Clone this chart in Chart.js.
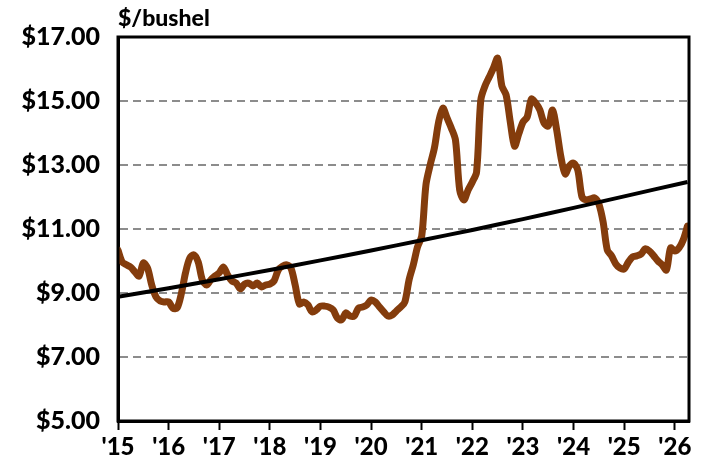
<!DOCTYPE html>
<html>
<head>
<meta charset="utf-8">
<script src="https://cdn.jsdelivr.net/npm/chart.js@4"></script>
<style>
html,body{margin:0;padding:0;background:#fff;}
#wrap{width:716px;height:472px;position:relative;}
</style>
</head>
<body>
<div id="wrap"><canvas id="c" width="716" height="472"></canvas></div>
<script>
// Monthly price series, Jan 2015 .. Apr 2026 ($/bushel)
const startYear = 2015;
const prices = [
  10.34, 9.97, 9.88, 9.81, 9.66, 9.53, 9.94, 9.78, 9.25, 8.88, 8.75, 8.72,
  8.72, 8.53, 8.53, 8.97, 9.63, 10.09, 10.19, 9.97, 9.41, 9.25, 9.41, 9.53,
  9.63, 9.81, 9.56, 9.38, 9.31, 9.13, 9.28, 9.31, 9.22, 9.31, 9.19, 9.25,
  9.28, 9.38, 9.72, 9.84, 9.88, 9.78, 9.25, 8.66, 8.72, 8.63, 8.41, 8.47,
  8.59, 8.59, 8.56, 8.47, 8.22, 8.16, 8.38, 8.28, 8.28, 8.53, 8.56, 8.63,
  8.78, 8.72, 8.56, 8.41, 8.28, 8.31, 8.44, 8.56, 8.72, 9.41, 9.88, 10.44,
  10.78, 12.38, 13.00, 13.53, 14.34, 14.78, 14.47, 14.16, 13.78, 12.22, 11.91, 12.22,
  12.47, 12.78, 15.03, 15.47, 15.75, 16.03, 16.34, 15.47, 15.19, 14.34, 13.59, 13.97,
  14.34, 14.50, 15.06, 14.94, 14.72, 14.31, 14.22, 14.72, 14.09, 13.25, 12.72, 12.97,
  13.06, 12.84, 12.00, 11.91, 11.94, 11.97, 11.78, 11.22, 10.34, 10.16, 9.91, 9.78,
  9.75, 9.97, 10.13, 10.16, 10.22, 10.38, 10.31, 10.16, 10.00, 9.88, 9.72, 10.41,
  10.31, 10.41, 10.66, 11.09
];
// Trend line read at year marks
const trendYears  = [2015, 2016, 2017, 2018, 2019, 2020, 2021, 2022, 2023, 2024, 2025, 2026.25];
const trendValues = [8.88, 9.15, 9.43, 9.72, 10.02, 10.33, 10.65, 10.97, 11.31, 11.66, 12.02, 12.47];
// Axis ticks
const yearTicks = [2015, 2016, 2017, 2018, 2019, 2020, 2021, 2022, 2023, 2024, 2025, 2026];
const yearLabels = ["'15", "'16", "'17", "'18", "'19", "'20", "'21", "'22", "'23", "'24", "'25", "'26"];
const priceTicks = [5, 7, 9, 11, 13, 15, 17];
const yUnit = "$/bushel";

const priceData = prices.map((v, i) => ({x: startYear + i / 12, y: v}));
const trendData = trendYears.map((x, i) => ({x: x, y: trendValues[i]}));

const FONT = "Lato, 'Liberation Sans', sans-serif";

const framePlugin = {
  id: 'frame',
  afterDatasetsDraw(chart) {
    const a = chart.chartArea, ctx = chart.ctx;
    ctx.save();
    ctx.strokeStyle = '#000';
    ctx.lineWidth = 3;
    ctx.strokeRect(a.left, a.top, a.right - a.left, a.bottom - a.top);
    ctx.restore();
  },
  afterDraw(chart) {
    const ctx = chart.ctx, a = chart.chartArea;
    ctx.save();
    ctx.fillStyle = '#000';
    ctx.font = "900 23px " + FONT;
    ctx.textAlign = 'left';
    ctx.textBaseline = 'alphabetic';
    ctx.fillText(yUnit, a.left, 26);
    ctx.restore();
  }
};

new Chart(document.getElementById('c'), {
  type: 'line',
  data: {
    datasets: [
      {
        label: 'Trend',
        data: trendData,
        borderColor: '#000000',
        borderWidth: 4,
        pointRadius: 0,
        tension: 0.3,
        fill: false
      },
      {
        label: 'Price',
        data: priceData,
        borderColor: '#843C0C',
        borderWidth: 7,
        pointRadius: 0,
        tension: 0.3,
        borderJoinStyle: 'round',
        borderCapStyle: 'round',
        fill: false
      }
    ]
  },
  plugins: [framePlugin],
  options: {
    responsive: false,
    animation: false,
    devicePixelRatio: 1,
    layout: {padding: {left: 0, top: 37, right: 27, bottom: 0}},
    plugins: {
      legend: {display: false},
      tooltip: {enabled: false},
      title: {display: false}
    },
    scales: {
      x: {
        type: 'linear',
        min: 2015,
        max: 2026.28,
        afterBuildTicks(scale) { scale.ticks = yearTicks.map(v => ({value: v})); },
        afterFit(scale) { scale.height = 51; },
        grid: {
          drawOnChartArea: false,
          drawTicks: true,
          tickLength: 9,
          tickColor: '#000',
          tickWidth: 2
        },
        border: {display: true, color: '#000', width: 3},
        ticks: {
          autoSkip: false,
          maxRotation: 0,
          padding: 3,
          color: '#000',
          font: {family: FONT, size: 24, weight: 900},
          callback(v) { const k = yearTicks.indexOf(v); return k >= 0 ? yearLabels[k] : ''; }
        }
      },
      y: {
        min: 5,
        max: 17,
        afterBuildTicks(scale) { scale.ticks = priceTicks.map(v => ({value: v})); },
        afterFit(scale) { scale.width = 118; },
        grid: {
          drawTicks: false,
          color: '#8c8c8c',
          lineWidth: 2
        },
        border: {display: true, color: '#000', width: 3, dash: [8, 5]},
        ticks: {
          padding: 18,
          color: '#000',
          font: {family: FONT, size: 25, weight: 900},
          callback(v) { return '$' + Number(v).toFixed(2); }
        }
      }
    }
  }
});
</script>
</body>
</html>
